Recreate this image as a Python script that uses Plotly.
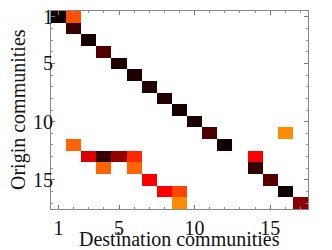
import plotly.graph_objects as go

n_communities = 17
origin = [1, 1, 2, 3, 4, 5, 6, 7, 8, 9, 10, 11, 11, 12, 12,
          13, 13, 13, 13, 13, 14, 14, 14, 15, 15, 16, 16, 16, 17, 17]
destination = [1, 2, 2, 3, 4, 5, 6, 7, 8, 9, 10, 11, 16, 12, 2,
               3, 4, 5, 6, 14, 4, 6, 14, 7, 15, 8, 9, 16, 9, 17]
flow = [0.97, 0.31, 0.89, 0.95, 0.83, 0.93, 0.94, 0.93, 0.92, 0.95, 0.94, 0.84, 0.15, 0.96, 0.26,
        0.53, 0.89, 0.68, 0.38, 0.46, 0.26, 0.26, 0.89, 0.46, 0.81, 0.46, 0.33, 0.97, 0.15, 0.70]
tick_vals = [1, 5, 10, 15]

z = [[None] * n_communities for _ in range(n_communities)]
for o, d, v in zip(origin, destination, flow):
    z[o - 1][d - 1] = v

cells = list(range(1, n_communities + 1))
colorscale = [
    [0.0, "#ffa000"], [0.15, "#ff8c00"], [0.3, "#ff5500"], [0.45, "#ff0000"],
    [0.6, "#c00000"], [0.75, "#700000"], [0.9, "#300000"], [1.0, "#000000"],
]

fig = go.Figure(go.Heatmap(
    x=cells, y=cells, z=z, zmin=0, zmax=1, colorscale=colorscale,
    showscale=False, hoverongaps=False,
))

font = "Liberation Serif, Times New Roman, serif"
axis_common = dict(
    showgrid=False, zeroline=False, showline=True, linecolor="#888888", linewidth=1,
    mirror="allticks", ticks="inside", ticklen=4, tickcolor="#777777",
    tickvals=tick_vals, tickfont=dict(family=font, size=20, color="#111111"),
    minor=dict(tickmode="linear", dtick=1, tick0=1, ticks="inside", ticklen=2, tickcolor="#999999"),
    automargin=False, ticklabeloverflow="allow",
)

# page body has an 8px default margin; offsets compensate for it
fig.update_layout(
    width=332, height=250,
    margin=dict(l=43, r=32, t=3, b=49),
    paper_bgcolor="white", plot_bgcolor="white",
    xaxis=dict(range=[0.5, 17.5], ticklabelstandoff=1, **axis_common),
    yaxis=dict(range=[17.5, 0.5], ticklabelstandoff=-7, **axis_common),
    annotations=[
        dict(text="Destination communities", xref="paper", yref="paper",
             x=0.5, y=-30 / 198, xanchor="center", yanchor="middle", showarrow=False,
             font=dict(family=font, size=20, color="#111111")),
        dict(text="Origin communities", xref="paper", yref="paper", textangle=-90,
             x=-33 / 257, y=0.5, xanchor="center", yanchor="middle", showarrow=False,
             font=dict(family=font, size=20, color="#111111")),
    ],
)

fig.write_html("out.html")
